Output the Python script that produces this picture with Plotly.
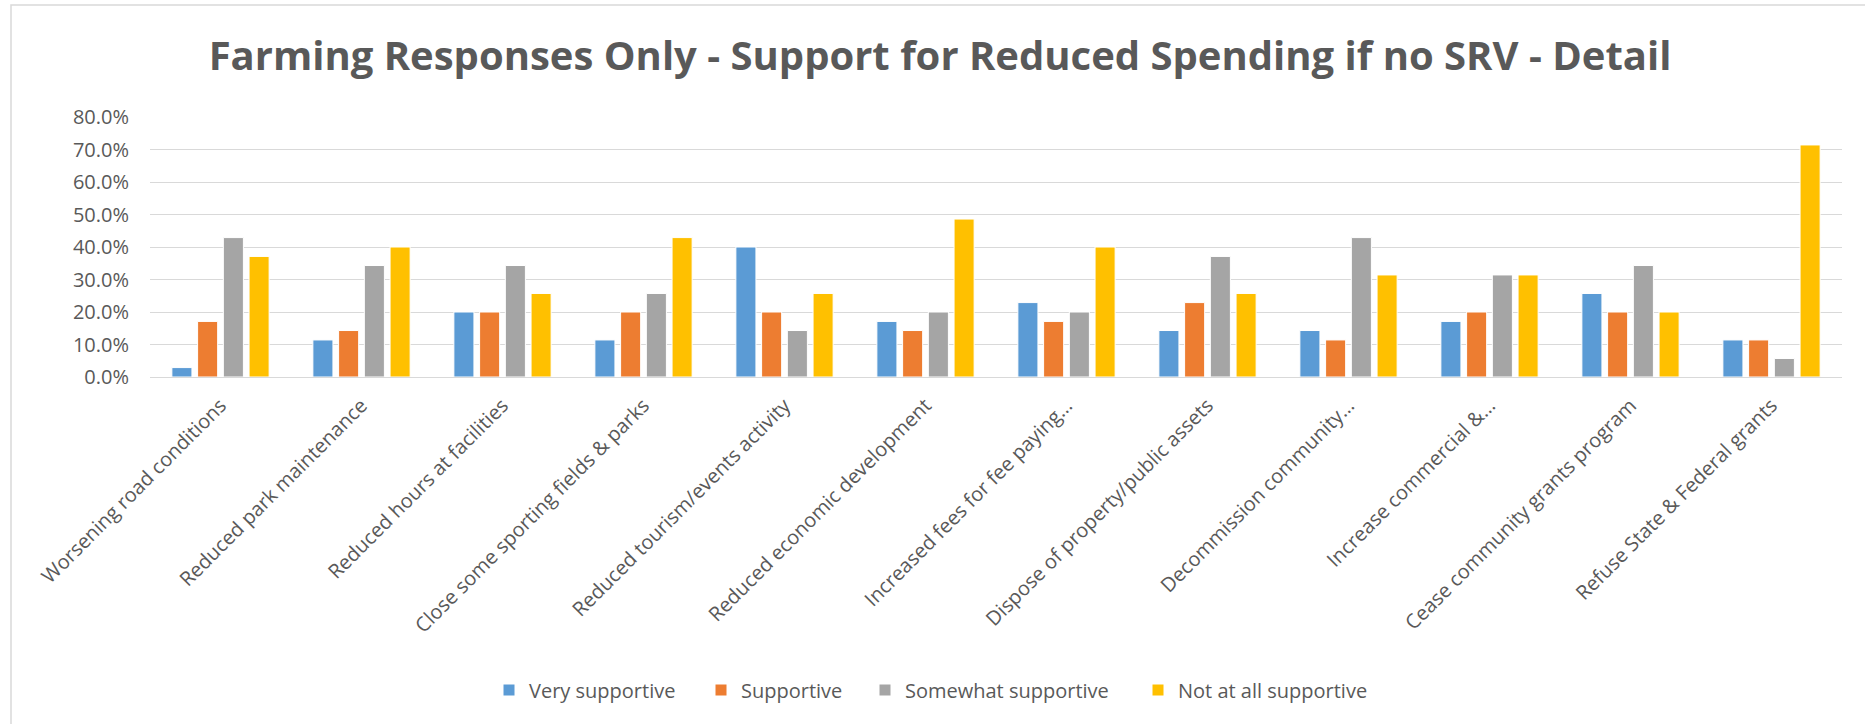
import plotly.graph_objects as go

categories = [
    "Worsening road conditions",
    "Reduced park maintenance",
    "Reduced hours at facilities",
    "Close some sporting fields & parks",
    "Reduced tourism/events activity",
    "Reduced economic development",
    "Increased fees for fee paying…",
    "Dispose of property/public assets",
    "Decommission community…",
    "Increase commercial &…",
    "Cease community grants program",
    "Refuse State & Federal grants",
]

series_names = ["Very supportive", "Supportive", "Somewhat supportive", "Not at all supportive"]

very_supportive = [2.9, 11.4, 20.0, 11.4, 40.0, 17.1, 22.9, 14.3, 14.3, 17.1, 25.7, 11.4]
supportive = [17.1, 14.3, 20.0, 20.0, 20.0, 14.3, 17.1, 22.9, 11.4, 20.0, 20.0, 11.4]
somewhat_supportive = [42.9, 34.3, 34.3, 25.7, 14.3, 20.0, 20.0, 37.1, 42.9, 31.4, 34.3, 5.7]
not_at_all_supportive = [37.1, 40.0, 25.7, 42.9, 25.7, 48.6, 40.0, 25.7, 31.4, 31.4, 20.0, 71.4]

y_ticks = [0, 10, 20, 30, 40, 50, 60, 70, 80]
y_tick_labels = [f"{v:.1f}%" for v in y_ticks]

colors = ["#5B9BD5", "#ED7D31", "#A5A5A5", "#FFC000"]
series_values = [very_supportive, supportive, somewhat_supportive, not_at_all_supportive]

W, H = 1865, 724
ML, MR, MT, MB = 150, 23, 117, 347
PW, PH = W - ML - MR, H - MT - MB

def px_x(px):
    return (px - ML) / PW

def px_y(py):
    return (H - MB - py) / PH

TXT = "#595959"
FONT = "Open Sans"

# legend item text start positions (px) in the page
legend_text_x = [532, 744, 908, 1181]
legend_ids = ["legend", "legend2", "legend3", "legend4"]

fig = go.Figure()
for name, vals, col, lid in zip(series_names, series_values, colors, legend_ids):
    fig.add_trace(go.Bar(
        x=categories, y=vals, name=name, legend=lid,
        marker=dict(color=col, line=dict(color="white", width=1)),
    ))

legend_common = dict(
    orientation="h", xref="container", yref="container",
    xanchor="left", y=1 - 690 / H, yanchor="middle",
    font=dict(family=FONT, size=20, color=TXT),
    bgcolor="rgba(0,0,0,0)",
)
legend_layout = {}
for lid, tx in zip(legend_ids, legend_text_x):
    legend_layout[lid] = dict(legend_common, x=(tx - 43) / W)

fig.update_layout(
    width=W, height=H,
    margin=dict(l=ML, r=MR, t=MT, b=MB, autoexpand=False),
    paper_bgcolor="white", plot_bgcolor="white",
    barmode="group", bargap=0.27, bargroupgap=0.22,
    font=dict(family=FONT, color=TXT),
    title=dict(
        text="<b>Farming Responses Only - Support for Reduced Spending if no SRV - Detail</b>",
        font=dict(family=FONT, size=40, color=TXT),
        x=940 / W, xref="container", xanchor="center",
        y=1 - 56 / H, yref="container", yanchor="middle",
    ),
    showlegend=True,
    shapes=[dict(
        type="rect", xref="paper", yref="paper",
        x0=px_x(11), x1=px_x(1880), y0=px_y(740), y1=px_y(5),
        line=dict(color="#D9D9D9", width=1.5), fillcolor="rgba(0,0,0,0)", layer="below",
    )],
    **legend_layout,
)

fig.update_xaxes(
    tickangle=-45, tickfont=dict(family=FONT, size=20, color=TXT),
    showgrid=False, showline=False, ticks="", ticklabelstandoff=12,
)
fig.update_yaxes(
    range=[0, 80], tickvals=y_ticks, ticktext=y_tick_labels,
    tickfont=dict(family=FONT, size=20, color=TXT),
    showgrid=True, gridcolor="#D9D9D9", gridwidth=1.3,
    zeroline=True, zerolinecolor="#D9D9D9", zerolinewidth=1.3,
    showline=False, ticks="", ticklabelstandoff=20,
)

fig.write_html("out.html")
